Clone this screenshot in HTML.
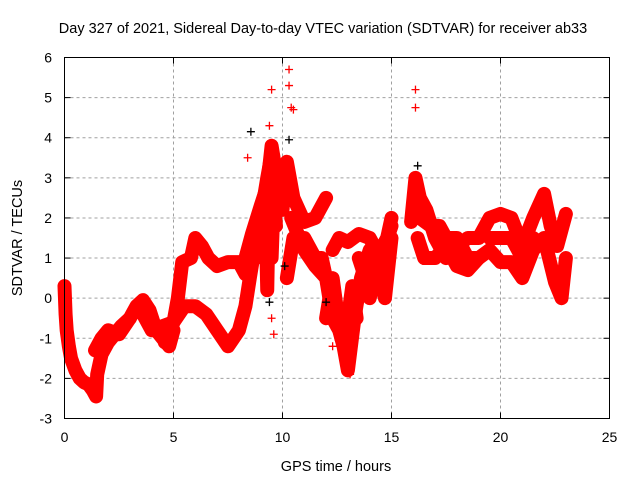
<!DOCTYPE html>
<html><head><meta charset="utf-8"><style>
body{margin:0;background:#fff}
svg{display:block;font-family:"Liberation Sans",sans-serif}
</style></head><body>
<svg id="chart" width="640" height="480" viewBox="0 0 640 480">
<text x="323" y="33" font-size="14.5" text-anchor="middle">Day 327 of 2021, Sidereal Day-to-day VTEC variation (SDTVAR) for receiver ab33</text>
<text x="336" y="471" font-size="14.5" text-anchor="middle">GPS time / hours</text>
<text x="22" y="238" font-size="14.5" text-anchor="middle" transform="rotate(-90 22 238)">SDTVAR / TECUs</text>
<g id="grid"></g>
<g id="ticks"></g>
<g id="marks"></g>
<rect x="64.5" y="57.5" width="545" height="361" fill="none" stroke="#000" stroke-width="1"/>
</svg>
<script>
const xTicks=[0,5,10,15,20,25];
const yTicks=[-3,-2,-1,0,1,2,3,4,5,6];
const trackA_t=[0,0.05,0.1,0.2,0.3,0.5,0.7,0.9,1.1,1.3,1.45,1.5,1.7,2.0,2.3,2.6,3.0,3.3,3.6,3.9,4.2,4.5,4.8,5.0];
const trackA_v=[0.3,-0.4,-0.8,-1.2,-1.5,-1.8,-2.0,-2.1,-2.15,-2.3,-2.45,-1.9,-1.4,-1.1,-0.9,-0.7,-0.5,-0.2,-0.05,-0.3,-0.8,-1.0,-1.2,-0.8];
const trackB_t=[4.6,5.0,5.2,5.4,5.8,6.0,6.3,6.6,7.0,7.5,8.0,8.3];
const trackB_v=[-1.1,-0.6,0.0,0.9,1.0,1.5,1.3,1.0,0.8,0.9,0.9,0.6];
const trackC_t=[3.5,4.0,4.5,5.0,5.5,6.0,6.5,7.0,7.5,8.0,8.3,8.5,8.8,9.0,9.3,9.5,9.7];
const trackC_v=[-0.3,-0.8,-0.7,-0.6,-0.2,-0.2,-0.4,-0.8,-1.2,-0.8,-0.2,0.5,1.5,2.0,3.0,3.6,3.0];
const trackD_t=[8.3,8.6,9.0,9.3,9.5,9.8,10.0,10.2,10.5,11.0,11.5,12.0];
const trackD_v=[1.0,1.6,2.3,2.8,3.8,2.8,2.2,3.4,2.5,1.9,2.0,2.5];
const trackE_t=[10.4,11.0,11.5,12.0,12.3,12.6,12.8,13.0,13.3,13.6,14.0,14.3,14.7,15.0];
const trackE_v=[2.0,1.2,0.8,0.5,-0.5,-0.8,-1.2,-1.8,-0.5,0.5,1.2,0.8,0.0,1.5];
const trackF_t=[12.3,12.6,13.0,13.5,14.0,14.5,15.0];
const trackF_v=[1.2,1.5,1.4,1.6,1.5,1.0,1.8];
const trackG_t=[15.9,16.1,16.3,16.6,17.0,17.5,18.0,18.5,19.0,19.5,20.0,20.5,21.0,21.5,22.0,22.3,22.6,23.0];
const trackG_v=[1.9,3.0,2.5,2.2,1.5,1.0,1.3,1.5,1.5,2.0,2.1,2.0,1.3,2.0,2.6,1.8,1.3,2.1];
const trackH_t=[16.2,16.5,17.0,17.5,18.0,18.5,19.0,19.5,20.0,20.5,21.0,21.5,22.0,22.5,22.8,23.0];
const trackH_v=[1.5,1.0,1.0,1.3,0.8,0.7,1.0,1.2,0.9,0.9,0.5,1.2,1.5,0.4,0.0,1.0];
const trackI_t=[9.1,9.2,9.3,9.4,9.5,9.6,9.7];
const trackI_v=[1.0,2.6,0.2,3.2,1.0,2.5,1.8];
const trackJ_t=[10.2,10.5,11.0,11.5,11.8,12.0];
const trackJ_v=[0.5,1.5,1.5,1.0,1.0,0.5];
const trackK_t=[12.0,12.3,12.5,12.7,13.0,13.2,13.4];
const trackK_v=[-0.5,0.5,-0.3,-1.0,-0.5,0.3,-0.5];
const trackL_t=[13.5,13.8,14.0,14.2,14.5,14.8,15.0];
const trackL_v=[1.0,0.5,0.0,0.5,1.2,1.5,2.0];
const trackM_t=[16.3,16.8,17.2,17.5,18.0,18.5,19.0];
const trackM_v=[2.0,1.8,1.8,1.5,1.5,1.0,1.0];
const trackN_t=[19.5,20.0,20.5,21.0,21.5,22.0];
const trackN_v=[1.5,1.5,1.5,1.0,1.5,1.3];
const trackO_t=[1.4,1.7,2.0,2.5,3.0];
const trackO_v=[-1.3,-1.0,-0.8,-0.9,-0.5];
const outlier_t=[9.5,10.3,10.3,10.4,10.5,16.1,16.1,8.4,9.4,9.6,9.5,12.3,12.9,13.1];
const outlier_v=[5.2,5.7,5.3,4.75,4.7,5.2,4.75,3.5,4.3,-0.9,-0.5,-1.2,-1.4,-1.9];
const black_t=[8.55,10.3,9.4,10.1,16.2,12.0];
const black_v=[4.15,3.95,-0.1,0.8,3.3,-0.1];
const tracks=[[trackA_t,trackA_v],[trackB_t,trackB_v],[trackC_t,trackC_v],[trackD_t,trackD_v],[trackE_t,trackE_v],[trackF_t,trackF_v],[trackG_t,trackG_v],[trackH_t,trackH_v],[trackI_t,trackI_v],[trackJ_t,trackJ_v],[trackK_t,trackK_v],[trackL_t,trackL_v],[trackM_t,trackM_v],[trackN_t,trackN_v],[trackO_t,trackO_v]];

const X0=64.5,X1=609.5,Y0=418.5,Y1=57.5;
const sx=t=>X0+(t-0)/(25-0)*(X1-X0);
const sy=v=>Y0-(v+3)/(6+3)*(Y0-Y1);
const NS="http://www.w3.org/2000/svg";
const grid=document.getElementById('grid'),ticks=document.getElementById('ticks'),marks=document.getElementById('marks');
function mk(tag,attrs,parent){const e=document.createElementNS(NS,tag);for(const k in attrs)e.setAttribute(k,attrs[k]);parent.appendChild(e);return e;}
xTicks.forEach(t=>{
  const x=sx(t);
  if(t>0&&t<25){const g=mk('line',{x1:x,x2:x,y1:Y1,y2:Y0,stroke:'#a0a0a0','stroke-dasharray':'3,3'},grid);
  
  }
  const a=mk('line',{x1:x,x2:x,y1:Y0,y2:Y0-6,stroke:'#000'},ticks);
  
  
  const b=mk('line',{x1:x,x2:x,y1:Y1,y2:Y1+6,stroke:'#000'},ticks);
  
  
  const l=mk('text',{x:x,y:442,'font-size':14,'text-anchor':'middle'},ticks);l.textContent=t;
  
  
});
yTicks.forEach(v=>{
  const y=sy(v);
  if(v>-3&&v<6){const g=mk('line',{x1:X0,x2:X1,y1:y,y2:y,stroke:'#a0a0a0','stroke-dasharray':'3,3'},grid);
  
  }
  const a=mk('line',{x1:X0,x2:X0+6,y1:y,y2:y,stroke:'#000'},ticks);
  
  
  const b=mk('line',{x1:X1,x2:X1-6,y1:y,y2:y,stroke:'#000'},ticks);
  
  
  const l=mk('text',{x:52,y:y+5,'font-size':14,'text-anchor':'end'},ticks);l.textContent=v;
  
  
});
function plus(t,v,color,name){
  const x=sx(t),y=sy(v);
  const p=mk('path',{d:`M${x-4},${y}H${x+4}M${x},${y-4}V${y+4}`,stroke:color,'stroke-width':1.3,fill:'none'},marks);
  
  
}
tracks.forEach(([ts,vs])=>{
  const d=ts.map((t,i)=>(i?'L':'M')+sx(t)+','+sy(vs[i])).join('');
  const pl=mk('path',{d:d,stroke:'#ff0000','stroke-width':14,fill:'none','stroke-linejoin':'round','stroke-linecap':'round'},marks);
  
  
  ts.forEach((t,i)=>plus(t,vs[i],'#ff0000','sdtvar-point'));
});
outlier_t.forEach((t,i)=>plus(t,outlier_v[i],'#ff0000','outlier-point'));
black_t.forEach((t,i)=>plus(t,black_v[i],'#000000','black-point'));
</script>
</body></html>
